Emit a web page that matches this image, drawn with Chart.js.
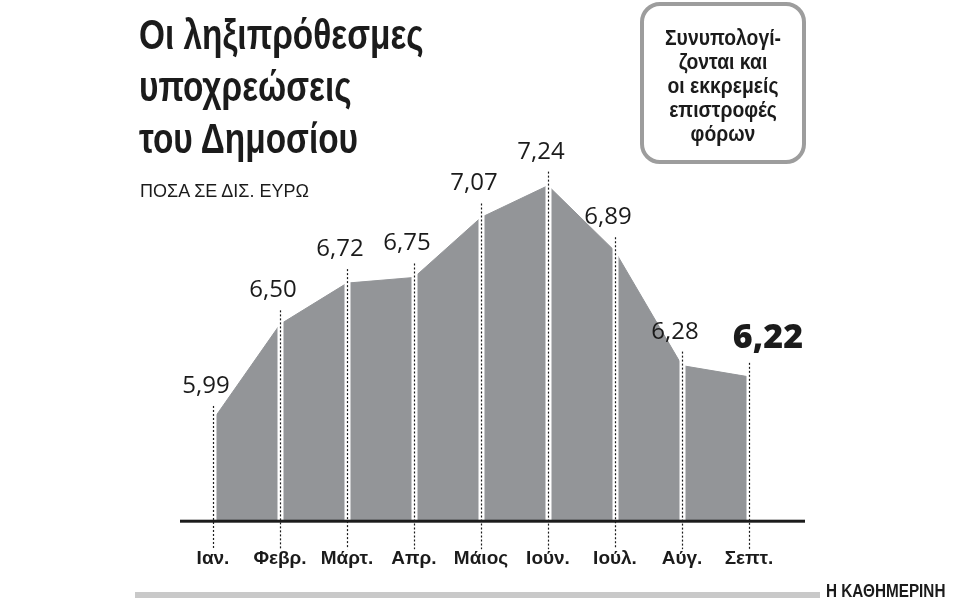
<!DOCTYPE html>
<html lang="el">
<head>
<meta charset="utf-8">
<title>Οι ληξιπρόθεσμες υποχρεώσεις του Δημοσίου</title>
<script src="https://cdn.jsdelivr.net/npm/chart.js@4.4.1/dist/chart.umd.min.js"></script>
<style>
  html, body { margin: 0; padding: 0; background: #fff; }
  #wrap {
    position: relative; width: 960px; height: 600px; overflow: hidden;
    font-family: "Liberation Sans Narrow", "Liberation Sans", sans-serif;
    color: #1b1b1b;
  }
  #chart { position: absolute; left: 0; top: 0; }
  .title {
    position: absolute; left: 139px; top: 9px;
    font-size: 42px; font-weight: bold; line-height: 52px;
    transform: scaleX(0.795); transform-origin: 0 0; white-space: nowrap;
  }
  .subtitle {
    position: absolute; left: 140px; top: 182px;
    font-size: 18px; line-height: 18px;
  }
  .note {
    position: absolute; left: 640px; top: 2px;
    width: 166px; height: 162px; box-sizing: border-box;
    border: 4px solid #9d9d9d; border-radius: 20px;
    padding-top: 20px; text-align: center;
  }
  .note div {
    font-size: 22px; font-weight: bold; line-height: 24px;
    transform: scaleX(0.88); white-space: nowrap;
  }
  .bar {
    position: absolute; left: 135px; top: 592px; width: 685px; height: 6px;
    background: #c9c9c9;
  }
  .brand {
    position: absolute; left: 826px; top: 582px;
    font-size: 18px; font-weight: bold; line-height: 18px; white-space: nowrap;
    transform: scaleX(0.85); transform-origin: 0 0;
  }
</style>
</head>
<body>
<div id="wrap">
  <canvas id="chart" width="960" height="600"></canvas>
  <div class="title">Οι ληξιπρόθεσμες<br>υποχρεώσεις<br>του Δημοσίου</div>
  <div class="subtitle">ΠΟΣΑ ΣΕ ΔΙΣ. ΕΥΡΩ</div>
  <div class="note"><div>Συνυπολογί-<br>ζονται και<br>οι εκκρεμείς<br>επιστροφές<br>φόρων</div></div>
  <div class="bar"></div>
  <div class="brand">Η ΚΑΘΗΜΕΡΙΝΗ</div>
</div>
<script>
const months = ["Ιαν.", "Φεβρ.", "Μάρτ.", "Απρ.", "Μάιος", "Ιούν.", "Ιούλ.", "Αύγ.", "Σεπτ."];
const debts = [5.99, 6.50, 6.72, 6.75, 7.07, 7.24, 6.89, 6.28, 6.22];
const yMin = 5.45;
const yMax = 7.43;

const grey = "#939598";
const ink = "#1b1b1b";

function fmt(v) {
  return v.toFixed(2).replace(".", ",");
}

// dotted drop lines, baseline and value labels
const markers = {
  id: "markers",
  afterDatasetsDraw(chart) {
    const { ctx, chartArea } = chart;
    const x = chart.scales.x;
    const y = chart.scales.y;
    const bottom = chartArea.bottom;
    const last = debts.length - 1;

    ctx.save();
    debts.forEach((v, i) => {
      const px = Math.round(x.getPixelForValue(i)) + 0.5;
      const py = y.getPixelForValue(v);

      ctx.fillStyle = "#fff";
      ctx.fillRect(px - 3, py - 20, 6, bottom - py + 20);

      ctx.setLineDash([2, 2]);
      ctx.strokeStyle = ink;
      ctx.lineWidth = 1.2;
      ctx.beginPath();
      ctx.moveTo(px, py - 14);
      ctx.lineTo(px, bottom + 28);
      ctx.stroke();
    });

    ctx.setLineDash([]);
    ctx.fillStyle = ink;
    ctx.fillRect(x.left - 33, bottom - 1.5, x.right - x.left + 89, 3);

    ctx.textAlign = "center";
    ctx.textBaseline = "alphabetic";
    debts.forEach((v, i) => {
      const px = x.getPixelForValue(i);
      const py = y.getPixelForValue(v);
      if (i === last) {
        ctx.font = "800 34px 'Open Sans', 'Liberation Sans', sans-serif";
        ctx.fillText(fmt(v), px + 19, py - 29);
      } else {
        ctx.font = "400 24px 'Open Sans', 'Liberation Sans', sans-serif";
        ctx.fillText(fmt(v), px - 7, py - 27);
      }
    });
    ctx.restore();
  }
};

new Chart(document.getElementById("chart"), {
  type: "line",
  data: {
    labels: months,
    datasets: [
      {
        data: debts,
        fill: "start",
        backgroundColor: grey,
        borderColor: grey,
        borderWidth: 1,
        pointRadius: 0,
        tension: 0
      }
    ]
  },
  options: {
    responsive: false,
    animation: false,
    layout: {
      padding: { left: 213, right: 211, top: 150, bottom: 4 }
    },
    plugins: {
      legend: { display: false },
      tooltip: { enabled: false }
    },
    scales: {
      x: {
        grid: { display: false, drawTicks: false },
        border: { display: false },
        ticks: {
          padding: 26,
          color: ink,
          autoSkip: false,
          maxRotation: 0,
          font: {
            family: "'Liberation Sans Narrow', 'Liberation Sans', sans-serif",
            size: 19,
            weight: "bold"
          }
        }
      },
      y: {
        display: false,
        min: yMin,
        max: yMax
      }
    }
  },
  plugins: [markers]
});
</script>
</body>
</html>
